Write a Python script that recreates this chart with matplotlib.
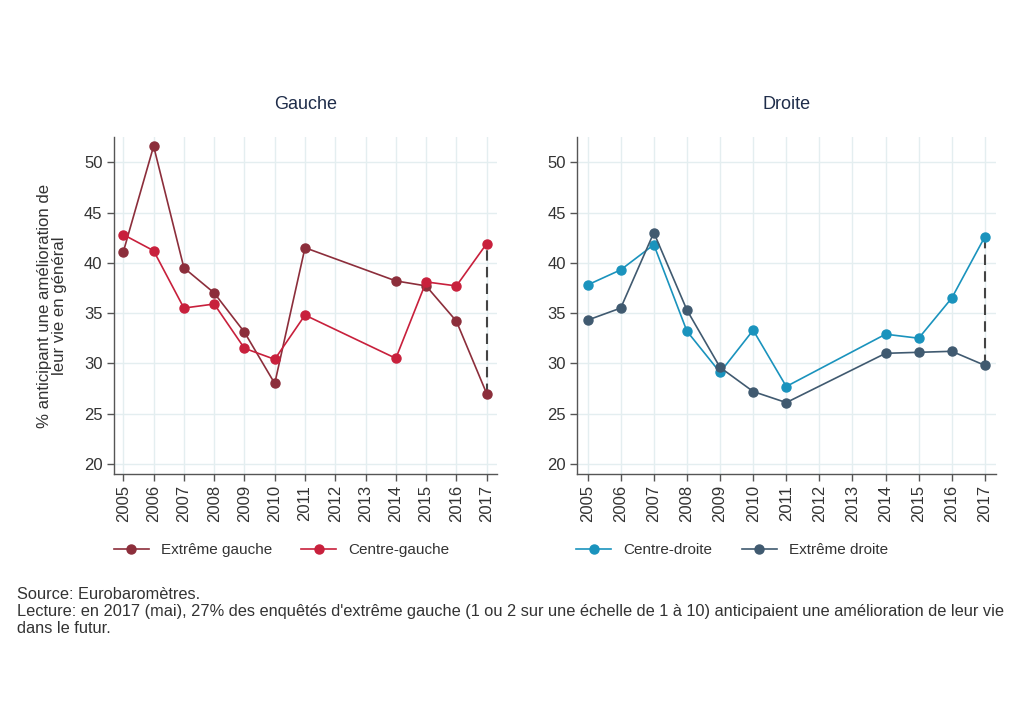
import matplotlib
matplotlib.use('Agg')
import matplotlib.pyplot as plt

plt.rcParams['font.family'] = ['Liberation Sans', 'DejaVu Sans']

years = [2005, 2006, 2007, 2008, 2009, 2010, 2011, 2012, 2013, 2014, 2015, 2016, 2017]
dataYears = [2005, 2006, 2007, 2008, 2009, 2010, 2011, 2014, 2015, 2016, 2017]

extremeGauche = [41.1, 51.6, 39.5, 37.0, 33.1, 28.0, 41.5, 38.2, 37.7, 34.2, 27.0]
centreGauche = [42.8, 41.2, 35.5, 35.9, 31.5, 30.4, 34.8, 30.5, 38.1, 37.7, 41.9]
centreDroite = [37.8, 39.3, 41.8, 33.2, 29.1, 33.3, 27.7, 32.9, 32.5, 36.5, 42.6]
extremeDroite = [34.3, 35.5, 43.0, 35.3, 29.6, 27.2, 26.1, 31.0, 31.1, 31.2, 29.8]

yTicks = [20, 25, 30, 35, 40, 45, 50]

colEG = '#8c2e3b'
colCG = '#c8203c'
colCD = '#1a93bd'
colED = '#405a70'
gridCol = '#e4eef0'
textCol = '#333333'


def setupAxis(ax, title):
    ax.set_xlim(2005 - 0.32, 2017 + 0.33)
    ax.set_ylim(19, 52.5)
    ax.set_xticks(years)
    ax.set_xticklabels([str(y) for y in years], rotation=90, fontsize=12, color=textCol)
    ax.set_yticks(yTicks)
    ax.set_yticklabels([str(y) for y in yTicks], fontsize=12, color=textCol)
    ax.grid(True, color=gridCol, linewidth=1)
    ax.set_axisbelow(True)
    for s in ['top', 'right']:
        ax.spines[s].set_visible(False)
    for s in ['left', 'bottom']:
        ax.spines[s].set_color('#555555')
        ax.spines[s].set_linewidth(1)
    ax.tick_params(direction='out', length=5, color='#555555', width=1, pad=3)
    ax.set_title(title, fontsize=13, color='#1f2d4a', pad=20)


fig = plt.figure(figsize=(10.24, 7.23), dpi=100)
ax1 = fig.add_axes([0.111, 0.3444, 0.374, 0.466])
ax2 = fig.add_axes([0.5635, 0.3444, 0.409, 0.466])

setupAxis(ax1, 'Gauche')
setupAxis(ax2, 'Droite')

ax1.plot([2017, 2017], [extremeGauche[-1], centreGauche[-1]], color='#444444', linestyle=(0, (5, 3)), linewidth=1.5, zorder=2)
l1, = ax1.plot(dataYears, extremeGauche, color=colEG, marker='o', markersize=6.5, linewidth=1.2, zorder=3)
l2, = ax1.plot(dataYears, centreGauche, color=colCG, marker='o', markersize=6.5, linewidth=1.2, zorder=3)
ax1.set_ylabel("% anticipant une amélioration de\nleur vie en général", fontsize=12.1, color=textCol, labelpad=12, linespacing=1.0)

ax2.plot([2017, 2017], [extremeDroite[-1], centreDroite[-1]], color='#444444', linestyle=(0, (5, 3)), linewidth=1.5, zorder=2)
l3, = ax2.plot(dataYears, centreDroite, color=colCD, marker='o', markersize=6.5, linewidth=1.2, zorder=3)
l4, = ax2.plot(dataYears, extremeDroite, color=colED, marker='o', markersize=6.5, linewidth=1.2, zorder=3)

ax1.legend([l1, l2], ['Extrême gauche', 'Centre-gauche'], loc='upper left', bbox_to_anchor=(-0.036, -0.165),
           ncol=2, frameon=False, fontsize=11, handlelength=2.3, handletextpad=0.8, columnspacing=1.9, labelcolor=textCol)
ax2.legend([l3, l4], ['Centre-droite', 'Extrême droite'], loc='upper left', bbox_to_anchor=(-0.035, -0.165),
           ncol=2, frameon=False, fontsize=11, handlelength=2.3, handletextpad=0.8, columnspacing=1.9, labelcolor=textCol)

fig.text(0.017, 0.188, 'Source: Eurobaromètres.\nLecture: en 2017 (mai), 27% des enquêtés d\'extrême gauche (1 ou 2 sur une échelle de 1 à 10) anticipaient une amélioration de leur vie\ndans le futur.',
         fontsize=11.8, color=textCol, va='top', linespacing=1.15)

fig.savefig('out.png', dpi=100, facecolor='white')
